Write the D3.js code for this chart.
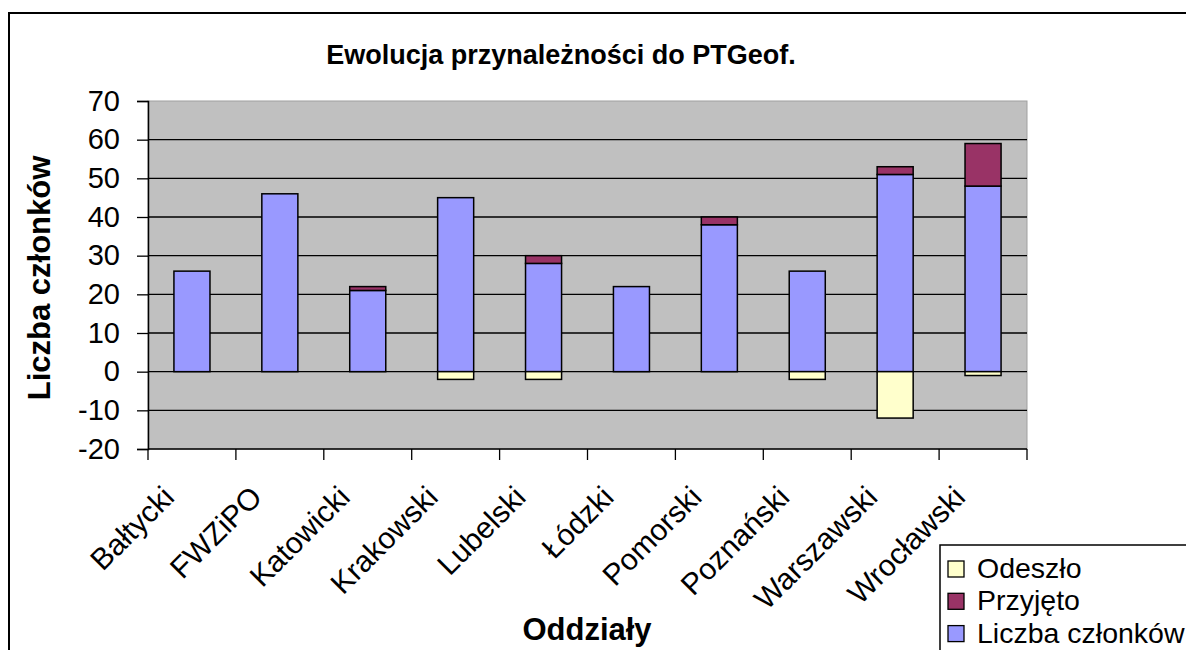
<!DOCTYPE html>
<html><head><meta charset="utf-8">
<script src="https://cdn.jsdelivr.net/npm/d3@7"></script>
<style>body{margin:0;background:#fff}svg{display:block;font-family:"Liberation Sans",Arial,sans-serif}</style>
</head><body>
<svg id="c" width="1186" height="650"></svg>
<script>
const categories = ["Bałtycki","FWZiPO","Katowicki","Krakowski","Lubelski","Łódzki","Pomorski","Poznański","Warszawski","Wrocławski"];
const liczba = [26,46,21,45,28,22,38,26,51,48];
const przyjeto = [0,0,1,0,2,0,2,0,2,11];
const odeszlo = [0,0,0,-2,-2,0,0,-2,-12,-1];
const yTicks = [-20,-10,0,10,20,30,40,50,60,70];
const seriesNames = ["Odeszło","Przyjęto","Liczba członków"];
const colors = {"Odeszło":"#FFFFCC","Przyjęto":"#993366","Liczba członków":"#9999FF"};

const svg = d3.select("#c");
const L=148, R=1027, T=101, B=449;
const x = d3.scaleBand().domain(categories).range([L,R]).paddingInner(0.59).paddingOuter(0.295);
const xb = d3.scaleBand().domain(categories).range([L,R]);
const y = d3.scaleLinear().domain([-20,70]).range([B,T]);

// outer frame
svg.append("rect").attr("x",9).attr("y",13).attr("width",1200).attr("height",700)
  .attr("fill","#fff").attr("stroke","#000").attr("stroke-width",2);

// plot bg
svg.append("rect").attr("x",L).attr("y",T).attr("width",R-L).attr("height",B-T)
  .attr("fill","#C0C0C0").attr("stroke","#a0a0a0").attr("stroke-width",1);

// gridlines
svg.append("g").selectAll("line").data(yTicks.filter(d=>d>-20 && d<70)).join("line")
  .attr("x1",L).attr("x2",R).attr("y1",d=>y(d)).attr("y2",d=>y(d))
  .attr("stroke","#000").attr("stroke-width",1.3);

// bars
const stacks = [];
categories.forEach((c,i)=>{
  stacks.push({c, s:"Liczba członków", y0:0, y1:liczba[i]});
  stacks.push({c, s:"Przyjęto", y0:liczba[i], y1:liczba[i]+przyjeto[i]});
  stacks.push({c, s:"Odeszło", y0:0, y1:odeszlo[i]});
});
svg.append("g").selectAll("rect").data(stacks.filter(d=>d.y1!==d.y0)).join("rect")
  .attr("x",d=>x(d.c)).attr("width",x.bandwidth())
  .attr("y",d=>y(Math.max(d.y0,d.y1))).attr("height",d=>Math.abs(y(d.y0)-y(d.y1)))
  .attr("fill",d=>colors[d.s]).attr("stroke","#000").attr("stroke-width",1.5);

// y axis
const ya = svg.append("g").attr("transform",`translate(${L},0)`)
  .call(d3.axisLeft(y).tickValues(yTicks).tickSize(11).tickPadding(17).tickFormat(d=>String(d)));
ya.select(".domain").attr("stroke","#000").attr("stroke-width",1.5);
ya.selectAll(".tick line").attr("stroke","#000").attr("stroke-width",1.3);
ya.selectAll("text").attr("font-size",29).attr("fill","#000").attr("font-family","Liberation Sans, Arial, sans-serif");

// x axis
const xa = svg.append("g").attr("transform",`translate(0,${B})`);
xa.append("line").attr("x1",L).attr("x2",R).attr("stroke","#000").attr("stroke-width",1.5);
xa.selectAll("line.t").data(categories.concat(["_end"])).join("line").attr("class","t")
  .attr("x1",(d,i)=>i<categories.length?xb(d):R).attr("x2",(d,i)=>i<categories.length?xb(d):R)
  .attr("y1",0).attr("y2",11).attr("stroke","#000").attr("stroke-width",1.3);
xa.selectAll("text").data(categories).join("text")
  .attr("transform",d=>`translate(${xb(d)+xb.bandwidth()/2-16},50) rotate(-45)`)
  .attr("text-anchor","end")
  .attr("font-size",30).attr("fill","#000").text(d=>d);

// title
svg.append("text").attr("x",561).attr("y",64).attr("text-anchor","middle")
  .attr("font-size",27).attr("font-weight","bold").text("Ewolucja przynależności do PTGeof.");
// axis titles
svg.append("text").attr("transform","translate(50,278) rotate(-90)").attr("text-anchor","middle")
  .attr("font-size",31).attr("font-weight","bold").text("Liczba członków");
svg.append("text").attr("x",587).attr("y",640).attr("text-anchor","middle")
  .attr("font-size",31).attr("font-weight","bold").text("Oddziały");

// legend
const lg = svg.append("g");
lg.append("rect").attr("x",940).attr("y",545).attr("width",300).attr("height",140)
  .attr("fill","#fff").attr("stroke","#000").attr("stroke-width",1.5);
const li = lg.selectAll("g").data(seriesNames).join("g")
  .attr("transform",(d,i)=>`translate(948,${561+i*32.3})`);
li.append("rect").attr("width",16).attr("height",16).attr("fill",d=>colors[d]).attr("stroke","#000").attr("stroke-width",1.3);
li.append("text").attr("x",29).attr("y",17).attr("font-size",28.5).text(d=>d);
</script>
</body></html>
